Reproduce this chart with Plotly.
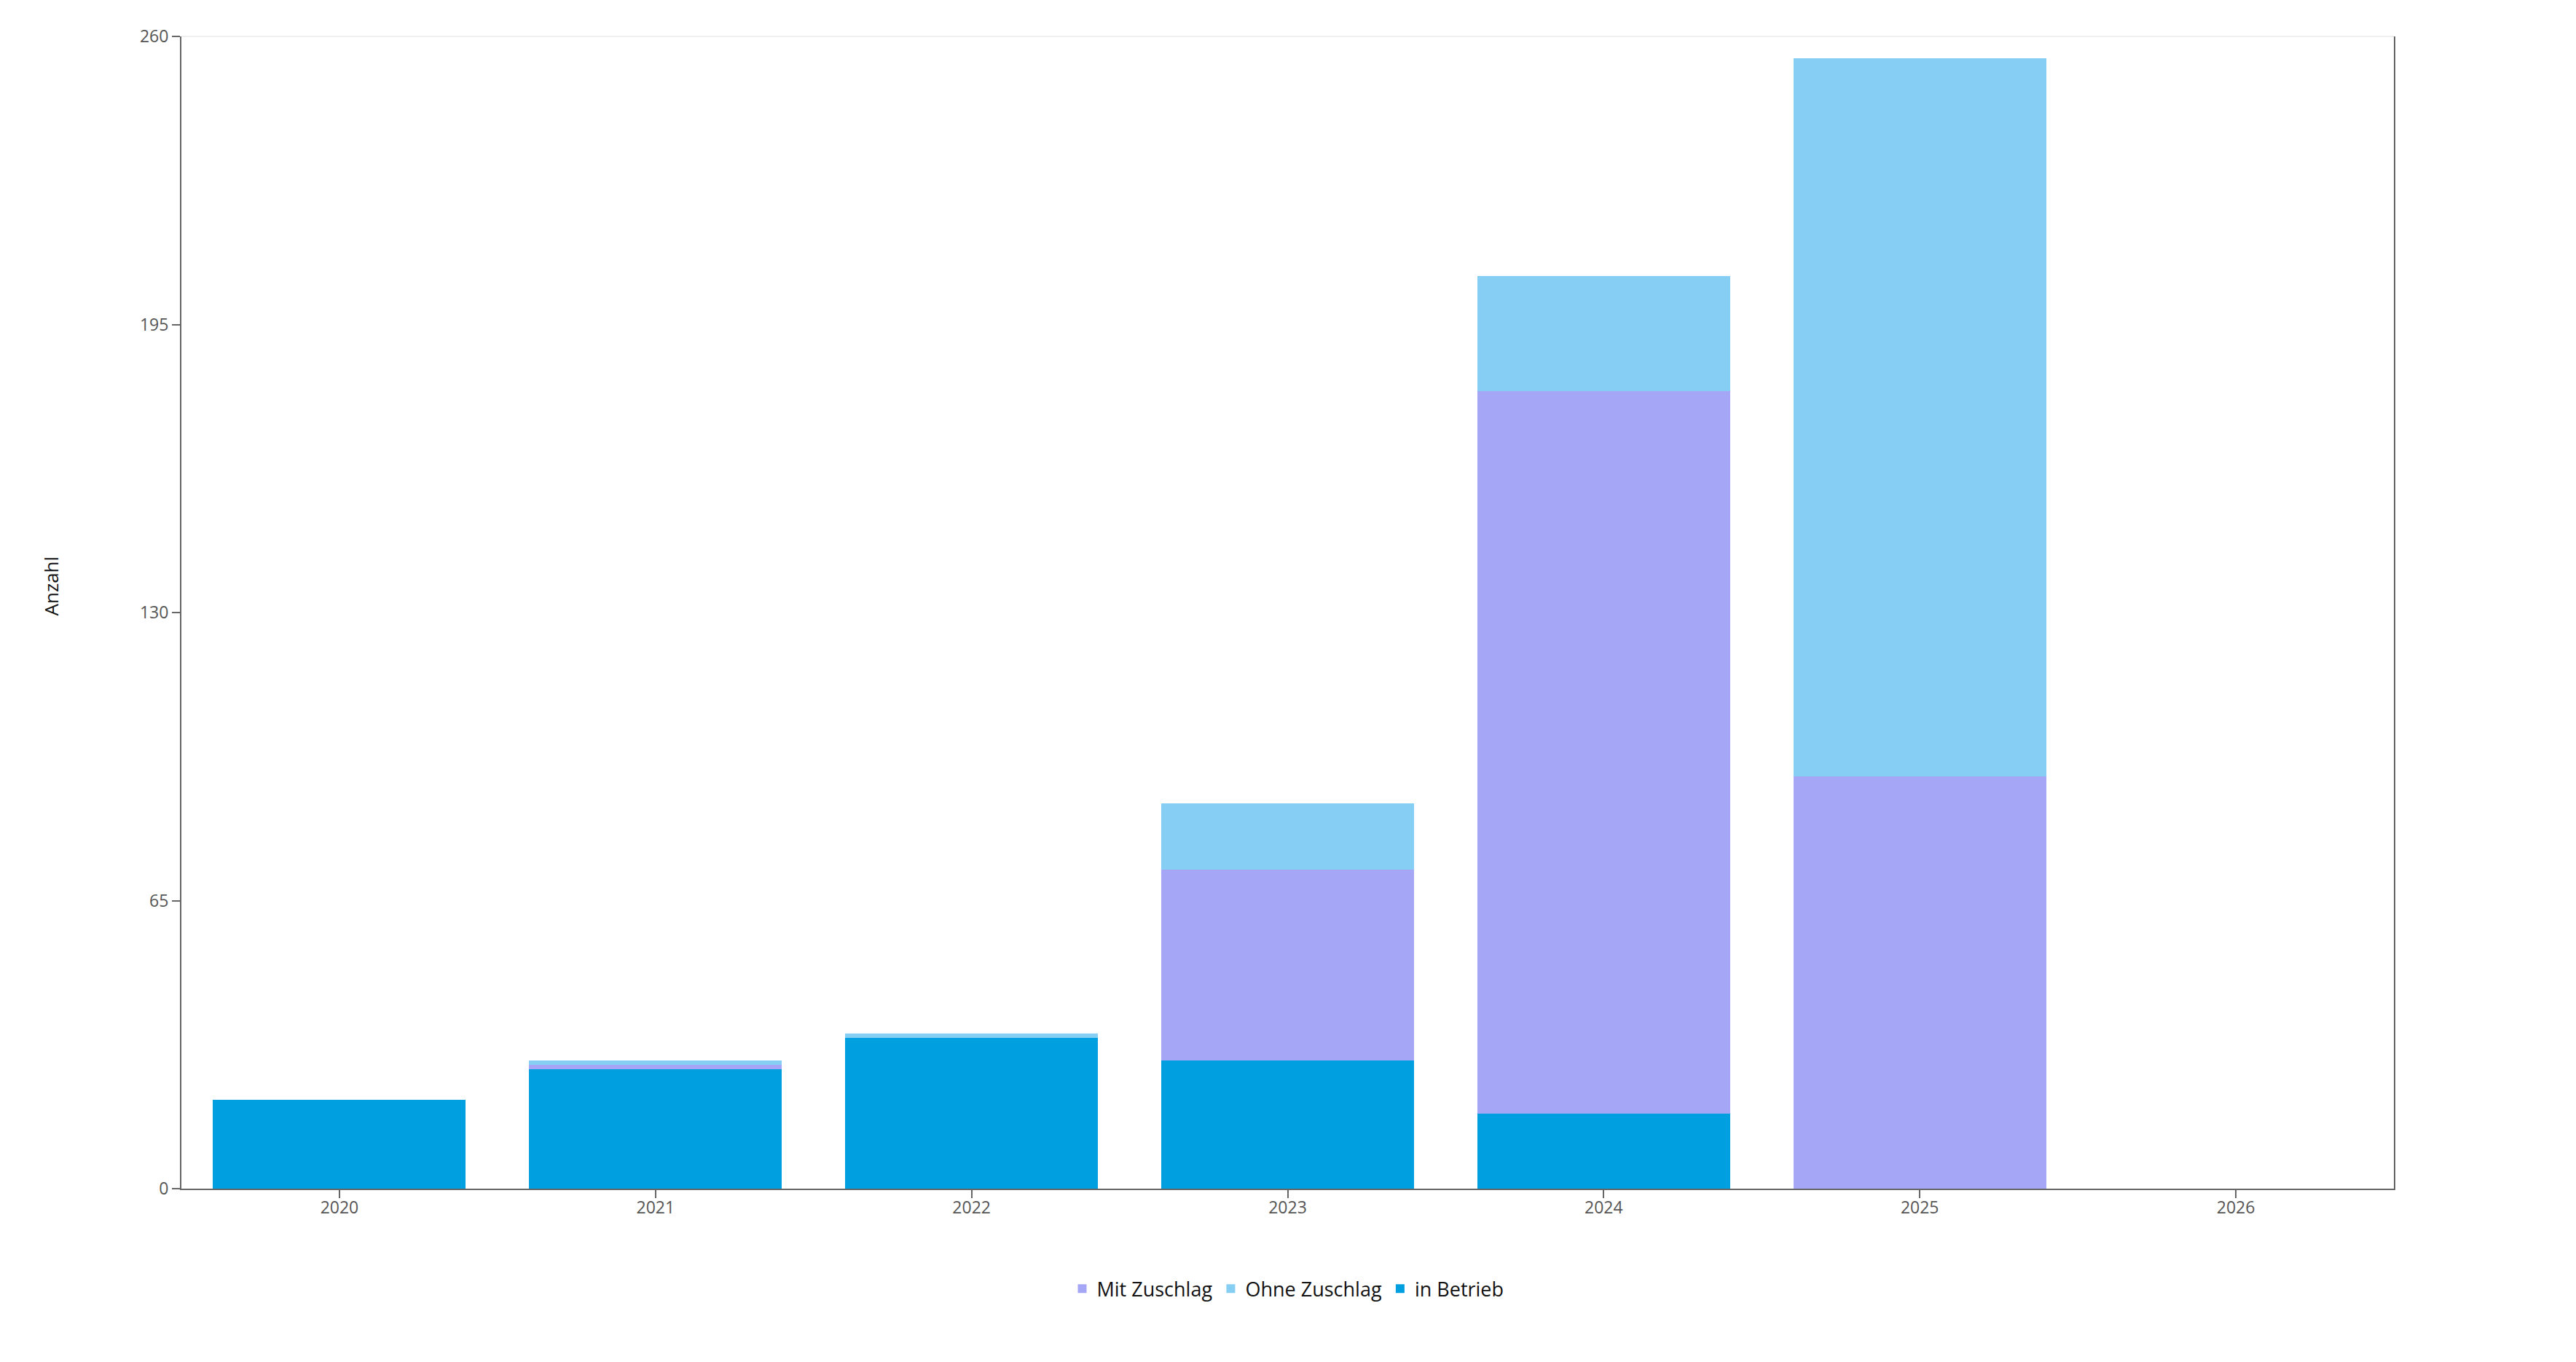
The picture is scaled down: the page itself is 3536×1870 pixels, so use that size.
import plotly.graph_objects as go

years = ["2020", "2021", "2022", "2023", "2024", "2025", "2026"]
in_betrieb = [20, 27, 34, 29, 17, 0, 0]
mit_zuschlag = [0, 1, 0, 43, 163, 93, 0]
ohne_zuschlag = [0, 1, 1, 15, 26, 162, 0]
y_ticks = [0, 65, 130, 195, 260]

c_betrieb = "#009FE0"
c_mit = "#A6A6F6"
c_ohne = "#87CEF5"
axis_col = "#666666"

fig = go.Figure()
# stacking order bottom -> top, legend order set via legendrank
fig.add_trace(go.Bar(name="in Betrieb", x=years, y=in_betrieb,
                     marker_color=c_betrieb, marker_line_width=0, legendrank=3))
fig.add_trace(go.Bar(name="Mit Zuschlag", x=years, y=mit_zuschlag,
                     marker_color=c_mit, marker_line_width=0, legendrank=1))
fig.add_trace(go.Bar(name="Ohne Zuschlag", x=years, y=ohne_zuschlag,
                     marker_color=c_ohne, marker_line_width=0, legendrank=2))

# page body has an 8px default margin, so the figure is a bit smaller
fig.update_layout(
    width=3520,
    height=1854,
    barmode="stack",
    bargap=0.2,
    plot_bgcolor="white",
    paper_bgcolor="white",
    font=dict(family="Open Sans, Noto Sans, sans-serif", size=23, color="#555555"),
    margin=dict(l=241, r=242, t=42, b=230),
    showlegend=True,
    legend=dict(
        orientation="h",
        x=0.5, xanchor="center",
        y=-0.087, yanchor="middle",
        font=dict(size=27, color="#111111"),
        traceorder="normal",
    ),
    xaxis=dict(
        type="category",
        showline=True, linecolor=axis_col, linewidth=2,
        ticks="outside", ticklen=11, tickwidth=2, tickcolor=axis_col,
        ticklabelstandoff=-7,
        showgrid=False, zeroline=False,
    ),
    yaxis=dict(
        range=[0, 260],
        tickvals=y_ticks,
        showline=True, linecolor=axis_col, linewidth=2, mirror=True,
        ticks="outside", ticklen=11, tickwidth=2, tickcolor=axis_col,
        showgrid=False, zeroline=False,
    ),
    shapes=[dict(type="line", xref="paper", yref="paper", x0=0, x1=1, y0=1, y1=1,
                 line=dict(color="#EFEFEF", width=2))],
    annotations=[dict(text="Anzahl", xref="paper", yref="paper", x=-0.059, y=0.523,
                      xanchor="center", yanchor="middle",
                      textangle=-90, showarrow=False,
                      font=dict(size=26, color="#111111"))],
)

fig.write_html("out.html")
